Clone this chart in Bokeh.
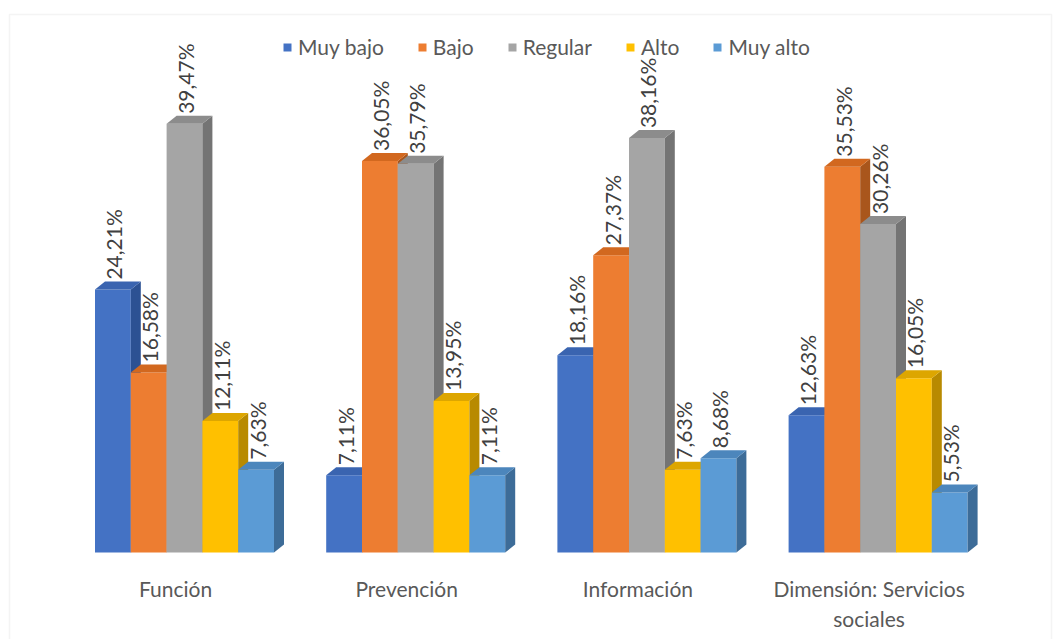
import math

from bokeh.plotting import figure
from bokeh.models import Range1d, Legend, LegendItem, ColumnDataSource, BoxAnnotation
from bokeh.core.properties import value
from bokeh.embed import file_html
from bokeh.resources import INLINE

# ---- data -------------------------------------------------------------
categories = ["Función", "Prevención", "Información", "Dimensión: Servicios\nsociales"]
series_names = ["Muy bajo", "Bajo", "Regular", "Alto", "Muy alto"]
muy_bajo = [24.21, 7.11, 18.16, 12.63]
bajo = [16.58, 36.05, 27.37, 35.53]
regular = [39.47, 35.79, 38.16, 30.26]
alto = [12.11, 13.95, 7.63, 16.05]
muy_alto = [7.63, 7.11, 8.68, 5.53]
series_values = [muy_bajo, bajo, regular, alto, muy_alto]

front_colors = ["#4472C4", "#ED7D31", "#A5A5A5", "#FFC000", "#5B9BD5"]
top_colors = ["#3A64B0", "#D2681F", "#8C8C8C", "#DDA600", "#4C86BC"]
side_colors = ["#2C5193", "#A9561C", "#747474", "#B88A00", "#3D6C98"]

# ---- layout -----------------------------------------------------------
W, H = 1054, 639
GROUP_PX = 231.2        # distance between category centres
X0_PX = 184             # first category centre
BASE_PX = 552           # baseline
PX_PER_PCT = 10.86      # vertical scale
BAR_PX = 35.8
DEPTH_X_PX = 10
DEPTH_Y_PX = 8

bw = BAR_PX / GROUP_PX
dx = DEPTH_X_PX / GROUP_PX
dy = DEPTH_Y_PX / PX_PER_PCT


def px_x(px):
    return (px - X0_PX) / GROUP_PX


def px_y(py):
    return (BASE_PX - py) / PX_PER_PCT


p = figure(
    width=W, height=H,
    x_range=Range1d(px_x(0), px_x(W)),
    y_range=Range1d(px_y(H), px_y(0)),
    x_axis_type=None, y_axis_type=None,
    output_backend="svg", toolbar_location=None,
    min_border=0, outline_line_color=None,
    background_fill_color="white", border_fill_color="white",
)
p.grid.visible = False

# chart border
p.add_layout(BoxAnnotation(left=px_x(9), right=px_x(1051), top=px_y(14), bottom=px_y(H + 20),
                           fill_alpha=0, line_color="#D9D9D9", line_width=1.5))

FONT = "Lato"
legend_items = []
label_x, label_y, label_t = [], [], []

n_series = len(series_values)
for k, (name, vals) in enumerate(zip(series_names, series_values)):
    lefts = [i + (k - n_series / 2) * bw for i in range(len(vals))]
    rights = [l + bw for l in lefts]
    src = ColumnDataSource(dict(left=lefts, right=rights, top=vals, bottom=[0] * len(vals)))
    front = p.quad(left="left", right="right", top="top", bottom="bottom", source=src,
                   fill_color=front_colors[k], line_color=None)
    side_xs = [[r, r + dx, r + dx, r] for r in rights]
    side_ys = [[0, dy, v + dy, v] for v in vals]
    p.patches(side_xs, side_ys, fill_color=side_colors[k], line_color=None)
    top_xs = [[l, r, r + dx, l + dx] for l, r in zip(lefts, rights)]
    top_ys = [[v, v, v + dy, v + dy] for v in vals]
    p.patches(top_xs, top_ys, fill_color=top_colors[k], line_color=None)
    legend_items.append(LegendItem(label=name, renderers=[front]))
    for l, r, v in zip(lefts, rights, vals):
        label_x.append((l + r) / 2)
        label_y.append(v)
        label_t.append(f"{v:.2f}%".replace(".", ","))

# value labels, rotated
p.text(x=label_x, y=label_y, text=label_t, angle=math.pi / 2,
       text_align="left", text_baseline="middle", y_offset=-10, x_offset=1,
       text_font=value(FONT), text_font_size="21px", text_color="#404040")

# category labels
p.text(x=list(range(len(categories))), y=[0] * len(categories), text=categories,
       text_align="center", text_baseline="top", x_offset=-9, y_offset=23,
       text_line_height=1.2,
       text_font=value(FONT), text_font_size="21px", text_color="#595959")

legend = Legend(items=legend_items, orientation="horizontal", location=(282, H - 59),
                padding=0, margin=0, spacing=33, label_standoff=6,
                glyph_width=10, glyph_height=10, label_height=22,
                label_text_font=FONT, label_text_font_size="21px", label_text_color="#595959",
                background_fill_alpha=0, border_line_color=None)
p.add_layout(legend)

open("out.html", "w").write(file_html(p, INLINE))
